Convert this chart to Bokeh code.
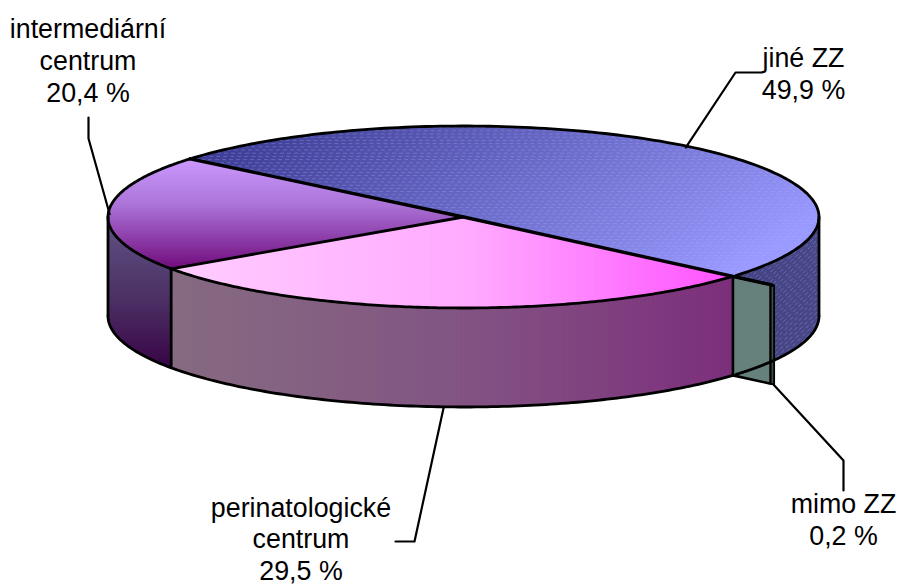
import numpy as np
from bokeh.plotting import figure
from bokeh.embed import file_html
from bokeh.resources import INLINE
from bokeh.models import Range1d
from bokeh.core.properties import value

categories = ["jiné ZZ", "intermediární centrum", "perinatologické centrum", "mimo ZZ"]
shares = [49.9, 20.4, 29.5, 0.2]
share_text = ["49,9 %", "20,4 %", "29,5 %", "0,2 %"]

CX, CY, RX, RY, DEPTH = 463.0, 216.5, 355.5, 91.0, 99.0
START = -40.0
EXPLODE = 1.14
VIEW_SKEW_BLUE, VIEW_SKEW_PURPLE = 0.6, 1.6

p = figure(width=899, height=585, output_backend="svg", toolbar_location=None,
           x_range=Range1d(0, 899), y_range=Range1d(585, 0), min_border=0,
           outline_line_color=None, background_fill_color="white", border_fill_color="white")
p.axis.visible = False
p.grid.visible = False

angles = [START]
for s in shares:
    angles.append(angles[-1] + s * 3.6)
A_BLUE, A_PURP, A_PINK, A_MIMO = angles[1] + VIEW_SKEW_BLUE, angles[2] + VIEW_SKEW_PURPLE, angles[3], angles[4]


def rim(a, z=0.0, k=1.0):
    r = np.radians(a)
    return CX + k * RX * np.cos(r), CY - k * RY * np.sin(r) + z


def arc(a0, a1, z=0.0, n=160):
    t = np.linspace(a0, a1, n)
    x, y = rim(t, z)
    return list(zip(x, y))


def clip(poly, nx, ny, c, keep_ge=True):
    out = []
    s = 1 if keep_ge else -1
    m = len(poly)
    for i in range(m):
        a, b = poly[i], poly[(i + 1) % m]
        da = s * (a[0] * nx + a[1] * ny - c)
        db = s * (b[0] * nx + b[1] * ny - c)
        if da >= 0:
            out.append(a)
        if (da >= 0) != (db >= 0):
            t = da / (da - db)
            out.append((a[0] + t * (b[0] - a[0]), a[1] + t * (b[1] - a[1])))
    return out


def lerp(stops, t):
    ts = [q[0] for q in stops]
    return tuple(int(round(np.interp(t, ts, [q[1][i] for q in stops]))) for i in range(3))


def gradient(poly, nx, ny, stops, step=2.0):
    proj = [v[0] * nx + v[1] * ny for v in poly]
    lo, hi = min(proj), max(proj)
    xs, ys, cols = [], [], []
    c = lo
    while c < hi:
        band = clip(clip(poly, nx, ny, c, True), nx, ny, c + step, False)
        if len(band) >= 3:
            xs.append([v[0] for v in band])
            ys.append([v[1] for v in band])
            r, g, b = lerp(stops, c + step / 2)
            cols.append(f"#{r:02x}{g:02x}{b:02x}")
        c += step
    p.patches(xs, ys, fill_color=cols, line_color=cols, line_width=1)


def dashes(poly, angle, spacing, color, alpha, width=1.0, dash="4 3"):
    """Scan lines at a given angle, kept where they fall inside poly."""
    a = np.radians(angle)
    ux, uy = np.cos(a), np.sin(a)
    nx, ny = -uy, ux
    pts = np.array(poly)
    d = pts[:, 0] * nx + pts[:, 1] * ny
    e = pts[:, 0] * ux + pts[:, 1] * uy
    rows = [[], []]
    for i, c in enumerate(np.arange(d.min() + spacing / 2, d.max(), spacing)):
        hits = []
        for j in range(len(pts)):
            d0, d1 = d[j], d[(j + 1) % len(pts)]
            if (d0 - c) * (d1 - c) < 0:
                hits.append(e[j] + (c - d0) / (d1 - d0) * (e[(j + 1) % len(pts)] - e[j]))
        hits.sort()
        for h0, h1 in zip(hits[0::2], hits[1::2]):
            rows[i % 2].append(((h0, h1), c))
    for k, row in enumerate(rows):
        xs = [[h[0] * ux + c * nx, h[1] * ux + c * nx] for h, c in row]
        ys = [[h[0] * uy + c * ny, h[1] * uy + c * ny] for h, c in row]
        p.multi_line(xs, ys, line_color=color, line_alpha=alpha, line_width=width,
                     line_dash=dash, line_dash_offset=k * 3)


def outline(pts, w=2.8):
    p.line([v[0] for v in pts], [v[1] for v in pts], line_color="black", line_width=w,
           line_join="round", line_cap="round")


# walls ---------------------------------------------------------------------
wall_blue = arc(START, 0) + arc(0, START, DEPTH)
gradient(wall_blue, 1, 0, [(737, (66, 66, 130)), (819, (72, 72, 136))])
dashes(wall_blue, -45, 3.4, "#8f8fd0", 0.5)

wall_left = arc(180, A_PURP) + arc(A_PURP, 180, DEPTH)
gradient(wall_left, 0, 1, [(225, (94, 80, 130)), (300, (76, 48, 100)), (372, (56, 2, 68))])

wall_front = arc(A_PURP, A_PINK) + arc(A_PINK, A_PURP, DEPTH)
gradient(wall_front, 1, 0, [(170, (132, 106, 128)), (450, (130, 85, 130)), (735, (124, 46, 124))])

# top faces -----------------------------------------------------------------
top_blue = [(CX, CY)] + arc(START, A_BLUE)
gradient(top_blue, 0.5547, 0.8321, [(243, (60, 60, 148)), (636, (153, 153, 255))])
dashes(top_blue, 0, 3.2, "#b4b4ff", 0.3)

top_purple = [(CX, CY)] + arc(A_BLUE, A_PURP)
gradient(top_purple, 0, 1, [(158, (204, 153, 255)), (205, (170, 115, 215)), (272, (110, 5, 120))])

top_pink = [(CX, CY)] + arc(A_PURP, A_PINK)
gradient(top_pink, 1, 0, [(170, (255, 204, 255)), (470, (255, 170, 255)), (735, (255, 80, 255))])

# the tiny exploded slice: its cut face and its rim -------------------------
x0, y0 = rim(A_PINK)
x1, y1 = rim(A_PINK, 0, EXPLODE)
face = [(x0, y0), (x1, y1), (x1, y1 + DEPTH), (x0, y0 + DEPTH)]
p.patch([v[0] for v in face], [v[1] for v in face], fill_color="#66807c", line_color="black", line_width=2.6,
        line_join="round")
edge = [(x1, y1), (x1 + 3.5, y1 + 1), (x1 + 3.5, y1 + DEPTH + 1), (x1, y1 + DEPTH)]
p.patch([v[0] for v in edge], [v[1] for v in edge], fill_color="#3c4c4a", line_color="black", line_width=1.8)

# outlines ------------------------------------------------------------------
outline(arc(START, A_BLUE))
outline(arc(A_BLUE, A_PURP))
outline(arc(A_PURP, A_PINK))
outline(arc(0, START, DEPTH))
outline(arc(180, A_PINK, DEPTH))
outline([rim(0), rim(0, DEPTH)])
outline([rim(180), rim(180, DEPTH)])
outline([rim(A_PURP), rim(A_PURP, DEPTH)])
outline([rim(A_PURP), (CX, CY)])
outline([rim(A_BLUE), (CX, CY), (x1 + 2, y1 + 0.5)], 3.4)

# leaders and labels --------------------------------------------------------
mids = [(angles[i] + angles[i + 1]) / 2 for i in range(4)]

ax, ay = rim(mids[0])
outline([(ax - 7, ay), (735, 72), (762, 72)], 2.2)
ax, ay = rim(mids[1])
outline([(ax + 1, ay + 3), (88, 138), (88, 117)], 2.2)
ax, ay = rim(mids[2], DEPTH)
outline([(ax + 4, ay), (414, 541), (395, 541)], 2.2)
outline([(x1 + 3, y1 + DEPTH + 1), (843, 460), (843, 490)], 2.2)

label_rows = [
    (categories[0], 803, 57), (share_text[0], 803, 89),
    ("intermediární", 87.5, 28), ("centrum", 87.5, 60), (share_text[1], 87.5, 92),
    ("perinatologické", 300.5, 507), ("centrum", 300.5, 538), (share_text[2], 300.5, 570),
    (categories[3], 843, 503), (share_text[3], 843, 535),
]
p.text([r[1] for r in label_rows], [r[2] for r in label_rows], text=[r[0] for r in label_rows],
       text_font=value("Liberation Sans"), text_font_size="26.8px", text_color="black",
       text_align="center", text_baseline="middle")

open("out.html", "w").write(file_html(p, INLINE))
